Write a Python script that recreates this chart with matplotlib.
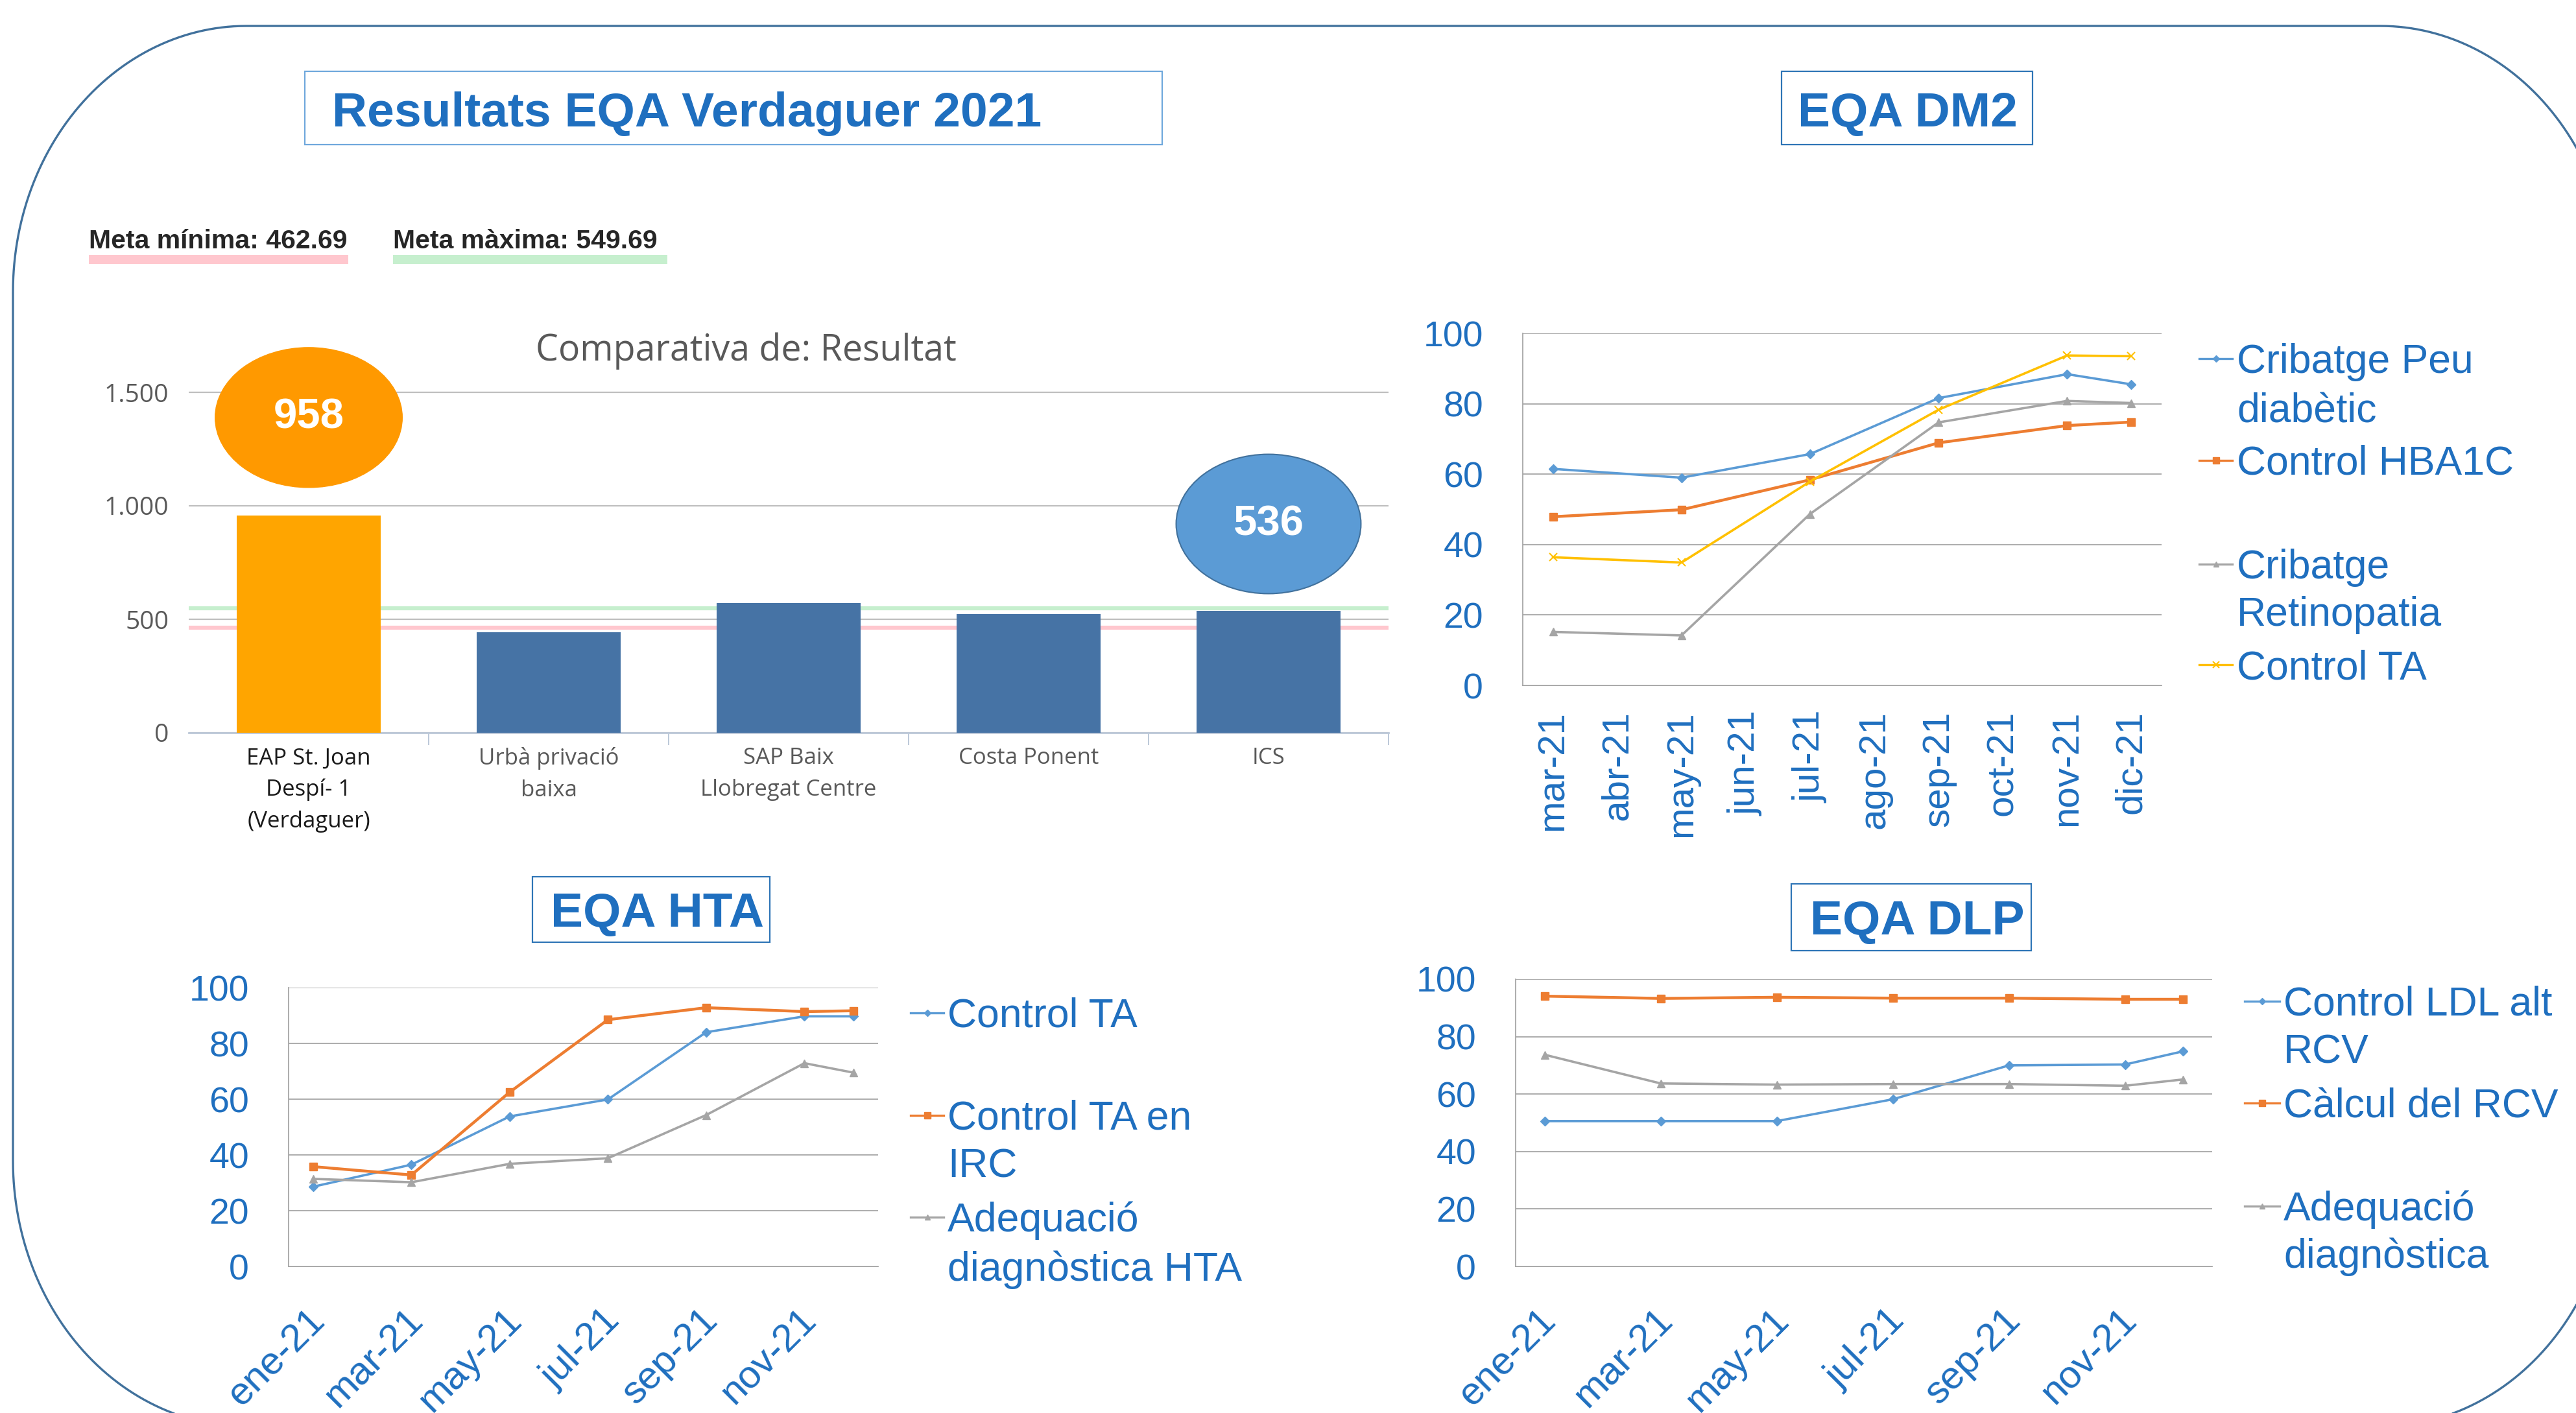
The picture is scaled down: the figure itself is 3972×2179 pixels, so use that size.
import numpy as np
import matplotlib.pyplot as plt
import matplotlib.transforms as mtransforms
from matplotlib.patches import Ellipse, Rectangle, PathPatch
from matplotlib.path import Path
from matplotlib.lines import Line2D

W, H = 3972, 2179

# ---- data ----
bar_cats = ["EAP St. Joan\nDespí- 1\n(Verdaguer)", "Urbà privació\nbaixa",
            "SAP Baix\nLlobregat Centre", "Costa Ponent", "ICS"]
bar_vals = [958, 444, 572, 524, 536]
meta_min = 462.69
meta_max = 549.69

dm2_months = ["mar-21", "abr-21", "may-21", "jun-21", "jul-21",
              "ago-21", "sep-21", "oct-21", "nov-21", "dic-21"]
dm2_idx = [0, 2, 4, 6, 8, 9]
dm2_peu = [61.5, 59.0, 65.7, 81.6, 88.4, 85.5]
dm2_hba1c = [47.9, 49.9, 58.4, 68.9, 73.8, 74.8]
dm2_retino = [15.2, 14.2, 48.7, 74.7, 80.8, 80.2]
dm2_ta = [36.4, 34.9, 57.9, 78.3, 93.7, 93.5]

year_months = ["ene-21", "feb-21", "mar-21", "abr-21", "may-21", "jun-21",
               "jul-21", "ago-21", "sep-21", "oct-21", "nov-21", "dic-21"]
hta_idx = [0, 2, 4, 6, 8, 10, 11]
hta_ta = [28.6, 36.5, 53.8, 59.9, 84.0, 89.7, 89.7]
hta_irc = [35.8, 32.8, 62.5, 88.5, 92.8, 91.4, 91.7]
hta_adeq = [31.4, 30.2, 36.8, 38.8, 54.3, 72.9, 69.5]

dlp_idx = [0, 2, 4, 6, 8, 10, 11]
dlp_ldl = [50.6, 50.6, 50.6, 58.2, 70.0, 70.3, 74.9]
dlp_rcv = [94.1, 93.3, 93.7, 93.4, 93.4, 93.0, 93.0]
dlp_adeq = [73.7, 63.7, 63.3, 63.5, 63.5, 62.9, 65.1]

BLUE_TXT = '#1F6FBF'
ARIAL = 'Liberation Sans'
S_BLUE = dict(color='#5B9BD5', marker='D', ms=7, lw=2.6)
S_ORANGE = dict(color='#ED7D31', marker='s', ms=9, lw=3.2)
S_GRAY = dict(color='#A5A5A5', marker='^', ms=8, lw=2.6)
S_YELLOW = dict(color='#FFC000', marker='x', ms=9, mew=1.5, lw=2.6)


def rect(l, t, r, b):
    return [l / W, 1 - b / H, (r - l) / W, (b - t) / H]


def fx(x):
    return x / W


def fy(y):
    return 1 - y / H


fig = plt.figure(figsize=(W / 100, H / 100), dpi=100)

# rounded frame
l, t, r, b, rx, ry = 20, 40, 4030, 2200, 360, 410
pts = []
for cx, cy, a0, a1 in [(l + rx, t + ry, np.pi, np.pi / 2),
                       (r - rx, t + ry, np.pi / 2, 0),
                       (r - rx, b - ry, 0, -np.pi / 2),
                       (l + rx, b - ry, -np.pi / 2, -np.pi)]:
    a = np.linspace(a0, a1, 60)
    pts += list(zip(fx(cx + rx * np.cos(a)), fy(cy - ry * np.sin(a))))
pts.append(pts[0])
fig.add_artist(PathPatch(Path(pts), transform=fig.transFigure, fill=False,
                         edgecolor='#41719C', lw=2.4, zorder=0))


def title_box(x0, y0, x1, y1, tx, base, text, ec):
    fig.add_artist(Rectangle((fx(x0), fy(y1)), fx(x1 - x0), (y1 - y0) / H,
                             transform=fig.transFigure, fill=False,
                             edgecolor=ec, lw=1.6))
    fig.text(fx(tx), fy(base), text, fontsize=54, fontweight='bold',
             family=ARIAL, color=BLUE_TXT, va='baseline', ha='left')


title_box(470, 110, 1792, 223, 512, 195, "Resultats EQA Verdaguer 2021", '#6FA8DC')
title_box(2747, 110, 3134, 223, 2772, 195, "EQA DM2", '#2E75B6')
title_box(821, 1352, 1187, 1453, 849, 1429, "EQA HTA", '#2E75B6')
title_box(2762, 1363, 3132, 1466, 2791, 1441, "EQA DLP", '#2E75B6')

# meta labels
fig.text(fx(137), fy(383), f"Meta mínima: {meta_min:.2f}", fontsize=29.5,
         fontweight='bold', family=ARIAL, color='#262626', va='baseline')
fig.text(fx(606), fy(383), f"Meta màxima: {meta_max:.2f}", fontsize=29.5,
         fontweight='bold', family=ARIAL, color='#262626', va='baseline')
fig.add_artist(Rectangle((fx(137), fy(407)), fx(400), 14 / H,
                         transform=fig.transFigure, color='#FFC7CE', lw=0))
fig.add_artist(Rectangle((fx(606), fy(407)), fx(423), 14 / H,
                         transform=fig.transFigure, color='#C6EFCE', lw=0))

# ---- bar chart ----
ax = fig.add_axes(rect(291, 570, 2141, 1130))
xb = np.arange(len(bar_vals))
colors = ['#FFA500'] + ['#4673A5'] * (len(bar_vals) - 1)
ax.bar(xb, bar_vals, width=0.6, color=colors, zorder=3)
ax.axhline(meta_min, color='#FFC7CE', lw=4.5, zorder=2)
ax.axhline(meta_max, color='#C6EFCE', lw=4.5, zorder=2)
ax.set_xlim(-0.5, len(bar_vals) - 0.5)
ax.set_ylim(0, 1600)
ax.set_yticks([0, 500, 1000, 1500])
ax.set_yticklabels(["0", "500", "1.000", "1.500"], family='Open Sans',
                   fontsize=28, color='#595959')
ax.yaxis.grid(True, color='#BFBFBF', lw=1.6, zorder=1)
ax.tick_params(axis='y', length=0, pad=22)
ax.set_xticks(xb)
ax.set_xticklabels(bar_cats, family='Open Sans', fontsize=25,
                   color='#595959', linespacing=1.55)
ax.get_xticklabels()[0].set_color('#1A1A1A')
ax.set_xticks(np.arange(0.5, len(bar_vals) - 0.4, 1), minor=True)
ax.tick_params(axis='x', which='major', length=0, pad=16)
ax.tick_params(axis='x', which='minor', length=14, width=1.4, color='#BCC8D8')
for s in ['top', 'right', 'left']:
    ax.spines[s].set_visible(False)
ax.spines['bottom'].set_color('#BCC8D8')
ax.spines['bottom'].set_linewidth(2)
ax.set_axisbelow(True)
fig.text(fx(1150), fy(556), "Comparativa de: Resultat", family='Open Sans',
         fontsize=40, color='#595959', ha='center', va='baseline')

ax.add_patch(Ellipse((0, 1389), 0.78, 617, color='#FF9900', clip_on=False, zorder=4))
ax.text(0, 1389, str(bar_vals[0]), color='white', fontsize=47, fontweight='bold',
        family=ARIAL, ha='center', va='center', zorder=5)
ax.add_patch(Ellipse((4, 920), 0.77, 614, facecolor='#5B9BD5', edgecolor='#41719C',
                     lw=1.5, clip_on=False, zorder=4))
ax.text(4, 920, str(bar_vals[4]), color='white', fontsize=47, fontweight='bold',
        family=ARIAL, ha='center', va='center', zorder=5)


# ---- line charts ----
def line_axes(box, xlim):
    a = fig.add_axes(rect(*box))
    a.set_xlim(*xlim)
    a.set_ylim(0, 100)
    a.set_yticks(range(0, 101, 20))
    a.yaxis.grid(True, color='#A6A6A6', lw=1.3)
    a.tick_params(axis='y', length=0, pad=44, labelsize=40, labelcolor=BLUE_TXT)
    for s in ['top', 'right']:
        a.spines[s].set_visible(False)
    for s in ['left', 'bottom']:
        a.spines[s].set_color('#A6A6A6')
        a.spines[s].set_linewidth(1.3)
    for lab in a.get_yticklabels():
        lab.set_family(ARIAL)
    return a


def slanted_months(a, labels):
    a.set_xticks(range(0, 2 * len(labels), 2))
    a.set_xticklabels(labels, rotation=45, ha='right', rotation_mode='anchor',
                      fontsize=43, family=ARIAL, color=BLUE_TXT)
    a.tick_params(axis='x', length=0, pad=40)
    shift = mtransforms.ScaledTranslation(-10 / 100, 0, fig.dpi_scale_trans)
    for lab in a.get_xticklabels():
        lab.set_transform(lab.get_transform() + shift)


def legend(hx0, hx1, tx, entries):
    for style, lines, ys in entries:
        y0 = fy(ys[0])
        fig.add_artist(Line2D([fx(hx0), fx((hx0 + hx1) / 2), fx(hx1)], [y0] * 3,
                              transform=fig.transFigure, color=style['color'],
                              lw=2.4, marker=style['marker'], ms=style['ms'] * 0.8,
                              markevery=[1], mew=style.get('mew', 1)))
        for txt, yy in zip(lines, ys):
            fig.text(fx(tx), fy(yy + 22), txt, fontsize=45, family=ARIAL,
                     color=BLUE_TXT, va='baseline', ha='left')


# DM2
a1 = line_axes((2348, 514, 3333, 1057), (-0.47, len(dm2_months) - 0.53))
for vals, st in [(dm2_peu, S_BLUE), (dm2_hba1c, S_ORANGE),
                 (dm2_retino, S_GRAY), (dm2_ta, S_YELLOW)]:
    a1.plot(dm2_idx, vals, **st)
a1.set_xticks(range(len(dm2_months)))
a1.set_xticklabels(dm2_months, rotation=90, fontsize=42, family=ARIAL,
                   color=BLUE_TXT)
a1.tick_params(axis='x', length=0, pad=28)
legend(3391, 3442, 3449, [(S_BLUE, ["Cribatge Peu", "diabètic"], [553, 629]),
                          (S_ORANGE, ["Control HBA1C"], [710]),
                          (S_GRAY, ["Cribatge", "Retinopatia"], [870, 943]),
                          (S_YELLOW, ["Control TA"], [1025])])

# HTA
a2 = line_axes((445, 1523, 1354, 1953), (-0.5, 11.5))
for vals, st in [(hta_ta, S_BLUE), (hta_irc, S_ORANGE), (hta_adeq, S_GRAY)]:
    a2.plot(hta_idx, vals, **st)
slanted_months(a2, year_months[::2])
legend(1404, 1455, 1461, [(S_BLUE, ["Control TA"], [1562]),
                          (S_ORANGE, ["Control TA en", "IRC"], [1720, 1793]),
                          (S_GRAY, ["Adequació", "diagnòstica HTA"], [1877, 1953])])

# DLP
a3 = line_axes((2337, 1510, 3411, 1953), (-0.5, 11.5))
for vals, st in [(dlp_ldl, S_BLUE), (dlp_rcv, S_ORANGE), (dlp_adeq, S_GRAY)]:
    a3.plot(dlp_idx, vals, **st)
slanted_months(a3, year_months[::2])
legend(3461, 3515, 3521, [(S_BLUE, ["Control LDL alt", "RCV"], [1544, 1617]),
                          (S_ORANGE, ["Càlcul del RCV"], [1701]),
                          (S_GRAY, ["Adequació", "diagnòstica"], [1860, 1933])])

fig.savefig('out.png', dpi=100)
